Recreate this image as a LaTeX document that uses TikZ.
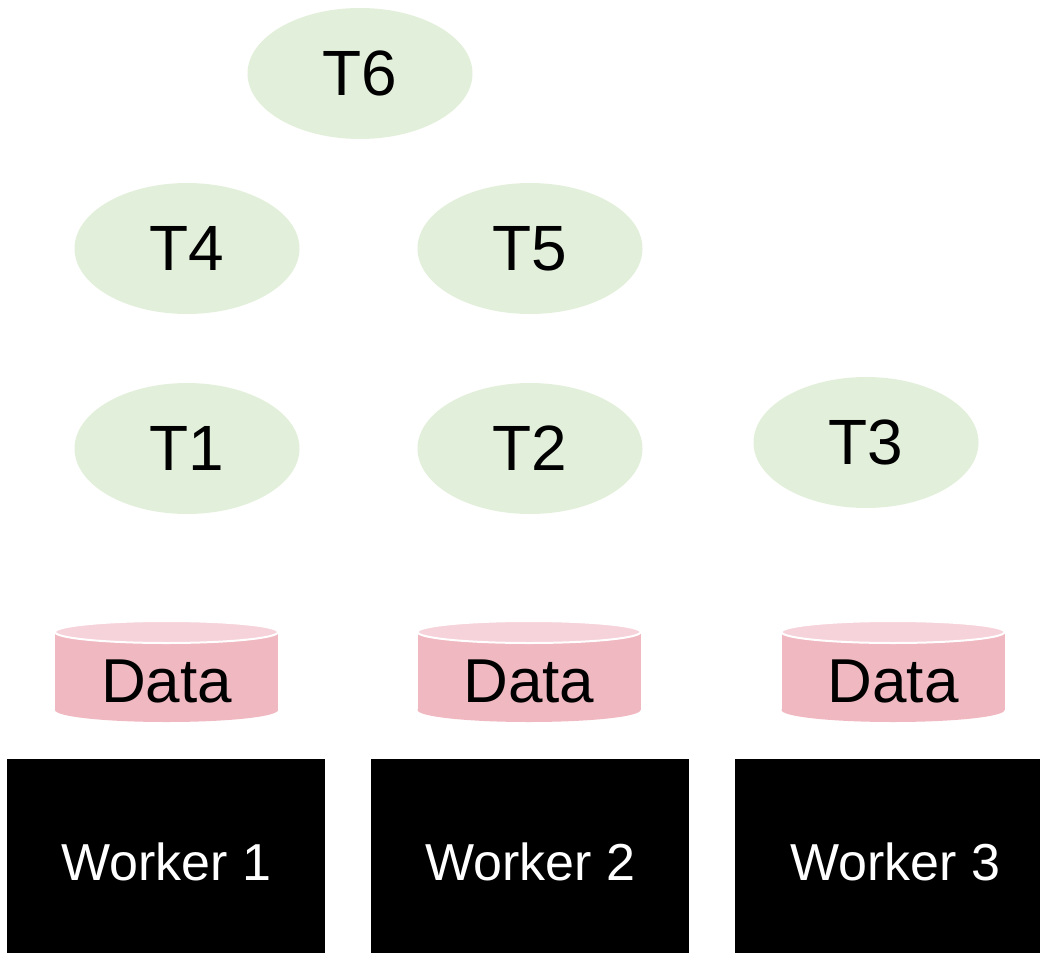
\documentclass[tikz,border=0pt]{standalone}
\usepackage{fontspec}
\setmainfont{Liberation Sans}
\usetikzlibrary{shapes.geometric}
\definecolor{taskgreen}{RGB}{226,239,218}
\definecolor{cylbody}{RGB}{240,184,193}
\definecolor{cyltop}{RGB}{246,211,218}
\tikzset{
  task/.style={ellipse, fill=taskgreen, inner sep=0pt, minimum width=225pt, minimum height=131pt, font=\fontsize{64}{72}\selectfont},
  datalabel/.style={inner sep=0pt, anchor=base, font=\fontsize{62}{70}\selectfont},
  workerlabel/.style={inner sep=0pt, anchor=base, text=white, font=\fontsize{52}{60}\selectfont},
}
\newcommand{\datacyl}[2]{%
  \fill[cylbody] (#1-111.5,632) rectangle (#1+111.5,710);
  \fill[cylbody] (#1,710) ellipse [x radius=111.5pt, y radius=12pt];
  \filldraw[fill=cyltop, draw=white, line width=2pt] (#1,632) ellipse [x radius=111.5pt, y radius=11pt];
  \node[datalabel] (#2) at (#1,702) {Data};
}
\begin{document}
\begin{tikzpicture}[x=1pt,y=-1pt]
\useasboundingbox (0,0) rectangle (1040,952);
% tasks
\node[task] (t6) at (360,73.5) {T6};
\node[task] (t4) at (187,248.5) {T4};
\node[task] (t5) at (530,248.5) {T5};
\node[task] (t1) at (187,448.5) {T1};
\node[task] (t2) at (530,448.5) {T2};
\node[task] (t3) at (866,442.5) {T3};
% data cylinders
\datacyl{166.5}{d1}
\datacyl{529}{d2}
\datacyl{893}{d3}
% workers
\fill[black] (7,759) rectangle (325,960);
\fill[black] (371,759) rectangle (689,960);
\fill[black] (735,759) rectangle (1053,960);
\node[workerlabel] (w1) at (166,880) {Worker 1};
\node[workerlabel] (w2) at (530,880) {Worker 2};
\node[workerlabel] (w3) at (895,880) {Worker 3};
\end{tikzpicture}
\end{document}
